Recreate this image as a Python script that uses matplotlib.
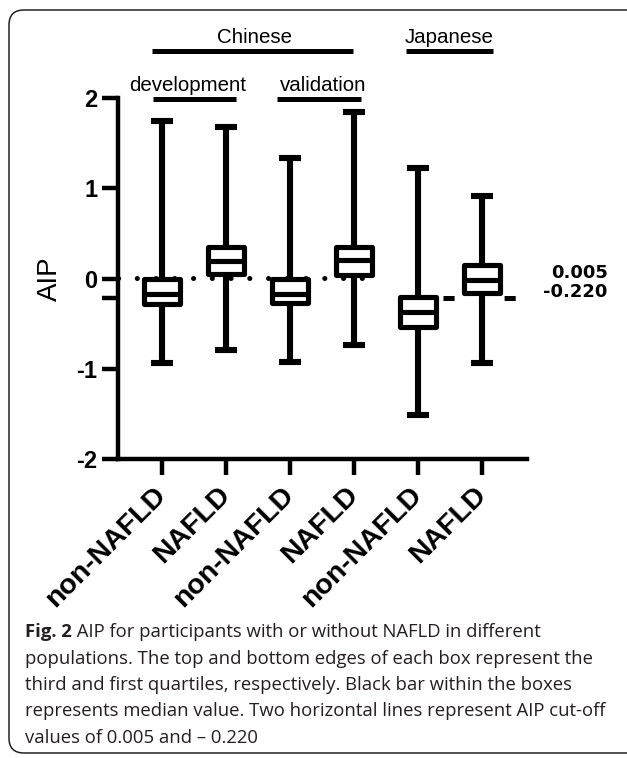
import numpy as np
import matplotlib.pyplot as plt
from matplotlib.patches import FancyBboxPatch
from matplotlib.transforms import IdentityTransform

plt.rcParams['font.family'] = ['Liberation Sans', 'DejaVu Sans']
plt.rcParams['lines.scale_dashes'] = False

# box statistics (AIP)
labels = ['non-NAFLD', 'NAFLD', 'non-NAFLD', 'NAFLD', 'non-NAFLD', 'NAFLD']
whis_lo = [-0.94, -0.79, -0.93, -0.74, -1.51, -0.94]
q1 = [-0.28, 0.05, -0.27, 0.04, -0.54, -0.16]
med = [-0.17, 0.19, -0.17, 0.20, -0.37, -0.02]
q3 = [0.00, 0.35, 0.00, 0.35, -0.20, 0.15]
whis_hi = [1.75, 1.68, 1.34, 1.84, 1.22, 0.91]

cutoffs = [0.005, -0.220]
cutoff_text = ['0.005', '-0.220']

# group brackets: (text, text x, bar x0, bar x1, bar y)
groups = [('Chinese', 2.45, 0.84, 3.98, 2.52),
          ('Japanese', 5.48, 4.81, 6.17, 2.52),
          ('development', 1.40, 0.86, 2.16, 1.99),
          ('validation', 3.52, 2.80, 4.10, 1.99)]

caption = ["populations. The top and bottom edges of each box represent the",
           "third and first quartiles, respectively. Black bar within the boxes",
           "represents median value. Two horizontal lines represent AIP cut-off",
           "values of 0.005 and \u2013 0.220"]

W, H = 627, 758
fig = plt.figure(figsize=(W / 100, H / 100), dpi=100)
ax = fig.add_axes([118 / W, 1 - 459 / H, 409 / W, 361 / H])

pos = np.arange(1, len(labels) + 1)
stats = [dict(med=m, q1=a, q3=b, whislo=lo, whishi=hi, fliers=[])
         for m, a, b, lo, hi in zip(med, q1, q3, whis_lo, whis_hi)]
bp = ax.bxp(stats, positions=pos, widths=0.56, capwidths=0.34,
            patch_artist=True, showfliers=False, manage_ticks=False)
for b in bp['boxes']:
    b.set_facecolor('white')
    b.set_edgecolor('black')
    b.set_linewidth(3.7)
    b.set_joinstyle('round')
    b.set_zorder(3)
for ln in bp['medians']:
    ln.set_color('black')
    ln.set_linewidth(3.7)
    ln.set_zorder(4)
for ln in bp['whiskers'] + bp['caps']:
    ln.set_color('black')
    ln.set_linewidth(4.4)
    ln.set_solid_capstyle('butt')
    ln.set_zorder(2)

# cut-off lines
ax.plot([0.31, 4.34], [cutoffs[0]] * 2, color='black', lw=3.6,
        linestyle=(0, (0.1, 13.4)), dash_capstyle='round', zorder=1,
        clip_on=False)
ax.plot([4.68, 6.53], [cutoffs[1]] * 2, color='black', lw=3.6,
        linestyle=(11.6, (8, 36)), dash_capstyle='butt', zorder=1)
ax.text(7.96, 0.066, cutoff_text[0], ha='right', va='center', fontsize=13,
        fontweight='bold', family='DejaVu Sans', clip_on=False)
ax.text(7.96, -0.155, cutoff_text[1], ha='right', va='center', fontsize=13,
        fontweight='bold', family='DejaVu Sans', clip_on=False)

for name, xt, x0, x1, yb in groups:
    ax.plot([x0, x1], [yb, yb], color='black', lw=3.6,
            solid_capstyle='butt', clip_on=False)
    ax.text(xt, yb + 0.09, name, ha='center', va='baseline',
            fontsize=14.8, clip_on=False)

ax.set_xlim(0.31, 6.70)
ax.set_ylim(-2, 2)
ax.set_yticks([-2, -1, -0.22, 0, 1, 2])
ax.set_yticklabels(['-2', '-1', '', '0', '1', '2'])
ax.set_xticks(pos)
ax.set_xticklabels(labels, rotation=45, ha='right', va='center',
                   rotation_mode='anchor')
for s in ['top', 'right']:
    ax.spines[s].set_visible(False)
for s in ['left', 'bottom']:
    ax.spines[s].set_linewidth(3.2)
ax.tick_params(axis='both', length=11.5, width=3.2, color='black')
ax.tick_params(axis='y', labelsize=17, pad=3.5)
ax.tick_params(axis='x', labelsize=20.5, pad=11.5)
for t in ax.get_yticklabels() + ax.get_xticklabels():
    t.set_fontweight('bold')
ax.set_ylabel('AIP', fontsize=20)
ax.yaxis.set_label_coords(-0.135, 0.5)

# outer frame with rounded corners
frame = FancyBboxPatch((9, 5), 700, 743, boxstyle='round,pad=0,rounding_size=15',
                       transform=IdentityTransform(), facecolor='none',
                       edgecolor='#222222', lw=1.1)
fig.patches.append(frame)

cap_font = 'Open Sans'
cap_size = 13.3
base = 637
step = 26.5
t0 = fig.text(25 / W, 1 - base / H, 'Fig. 2', fontsize=cap_size,
              fontweight='bold', family=cap_font, va='baseline', color='#231f20')
ax.annotate(' AIP for participants with or without NAFLD in different',
            xy=(1, 0), xycoords=t0, va='bottom', ha='left',
            fontsize=cap_size, family=cap_font, color='#231f20',
            annotation_clip=False)
for i, line in enumerate(caption):
    fig.text(25 / W, 1 - (base + step * (i + 1)) / H, line, fontsize=cap_size,
             family=cap_font, va='baseline', color='#231f20')

fig.savefig('out.png', dpi=100)
